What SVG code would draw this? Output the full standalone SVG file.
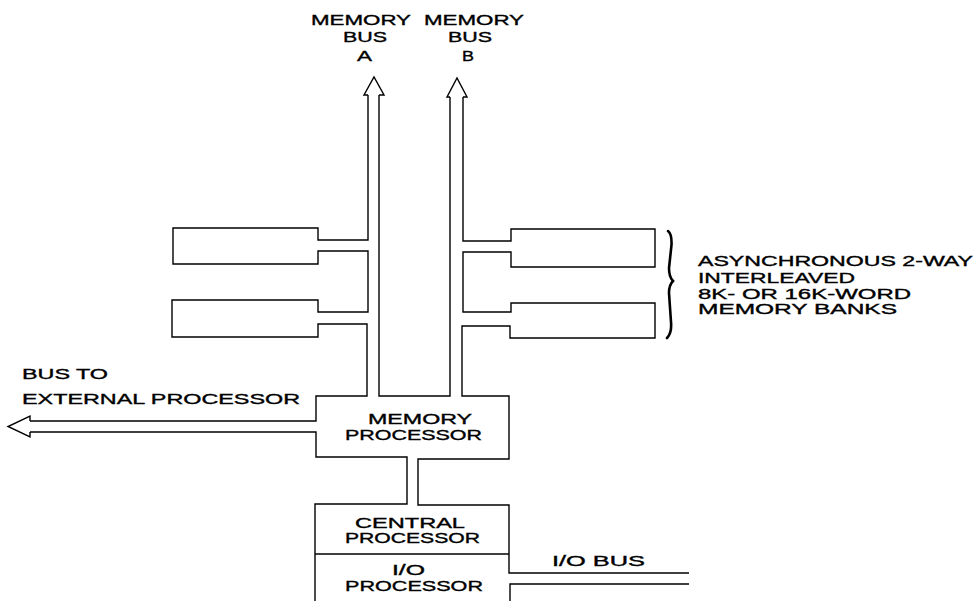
<svg xmlns="http://www.w3.org/2000/svg" width="980" height="601" viewBox="0 0 980 601">
<style>
.ln{fill:none;stroke:#000;stroke-width:1.4;stroke-linejoin:miter}
.t{font-family:"Liberation Sans",Arial,sans-serif;font-size:14px;fill:#000;stroke:#000;stroke-width:0.35}
.c{text-anchor:middle}
</style>
<rect width="980" height="601" fill="#fff"/>
<g id="labels-top">
<text class="t" x="311" y="25" textLength="100" lengthAdjust="spacingAndGlyphs">MEMORY</text>
<text class="t" x="424" y="25" textLength="100" lengthAdjust="spacingAndGlyphs">MEMORY</text>
<text class="t" x="343" y="42" textLength="44" lengthAdjust="spacingAndGlyphs">BUS</text>
<text class="t" x="448" y="42" textLength="44" lengthAdjust="spacingAndGlyphs">BUS</text>
<text class="t" x="357" y="61" textLength="15" lengthAdjust="spacingAndGlyphs">A</text>
<text class="t" x="462" y="61" textLength="12" lengthAdjust="spacingAndGlyphs">B</text>
</g>
<g id="connectors">
<!-- left outline: bus A outer, left banks, memory processor left, external bus, CP/IO left -->
<path class="ln" d="M368,95 L368,240 L318,240 L318,228 L173,228 L173,264 L318,264 L318,251 L368,251 L368,312 L318,312 L318,300 L172,300 L172,337 L318,337 L318,324 L367,324 L367,396 L316,396 L316,421 L30,421"/>
<path class="ln" d="M30,432 L316,432 L316,457 L407,457 L407,504 L315,504 L315,601"/>
<!-- inner U between buses -->
<path class="ln" d="M379,95 L379,396 L450,396 L450,97"/>
<!-- right outline -->
<path class="ln" d="M463,97 L463,241 L511,241 L511,229 L655,229 L655,267 L511,267 L511,252 L463,252 L463,312 L511,312 L511,303 L655,303 L655,338 L510,338 L510,326 L462,326 L462,396 L509,396 L509,459 L418,459 L418,505 L509,505 L509,573 L689,573"/>
<path class="ln" d="M689,584 L510,584 L510,601"/>
<!-- arrowheads -->
<path class="ln" d="M368,95 L364,95 L374,77 L384,95 L379,95"/>
<path class="ln" d="M450,97 L447,97 L457,78 L467,97 L463,97"/>
<path class="ln" d="M30,421 L30,416 L8,426.5 L30,437 L30,432"/>
<!-- CP / IO divider -->
<path class="ln" d="M315,554 L509,554"/>
</g>
<g id="memory-processor">
<text class="t" x="368" y="424" textLength="104" lengthAdjust="spacingAndGlyphs">MEMORY</text>
<text class="t" x="345" y="440" textLength="137" lengthAdjust="spacingAndGlyphs">PROCESSOR</text>
</g>
<g id="central-processor">
<text class="t" x="355" y="528" textLength="110" lengthAdjust="spacingAndGlyphs">CENTRAL</text>
<text class="t" x="345" y="543" textLength="135" lengthAdjust="spacingAndGlyphs">PROCESSOR</text>
</g>
<g id="io-processor">
<text class="t" x="392" y="575" textLength="33" lengthAdjust="spacingAndGlyphs">I/O</text>
<text class="t" x="345" y="591" textLength="138" lengthAdjust="spacingAndGlyphs">PROCESSOR</text>
</g>
<g id="io-bus">
<text class="t" x="552" y="566" textLength="93" lengthAdjust="spacingAndGlyphs">I/O  BUS</text>
</g>
<g id="external-bus">
<text class="t" x="22" y="379" textLength="86" lengthAdjust="spacingAndGlyphs">BUS TO</text>
<text class="t" x="22" y="404" textLength="278" lengthAdjust="spacingAndGlyphs">EXTERNAL PROCESSOR</text>
</g>
<g id="memory-banks">
<path d="M668,231 Q672,234 671.5,245 L669,268 Q669,277 673,281 Q669,285 669,293 L671,322 Q672,333 667,338" fill="none" stroke="#000" stroke-width="2.6" stroke-linecap="round"/>
<text class="t" x="698" y="266" textLength="275" lengthAdjust="spacingAndGlyphs">ASYNCHRONOUS 2-WAY</text>
<text class="t" x="698" y="283" textLength="157" lengthAdjust="spacingAndGlyphs">INTERLEAVED</text>
<text class="t" x="698" y="299" textLength="213" lengthAdjust="spacingAndGlyphs">8K- OR 16K-WORD</text>
<text class="t" x="698" y="314" textLength="199" lengthAdjust="spacingAndGlyphs">MEMORY BANKS</text>
</g>
</svg>
